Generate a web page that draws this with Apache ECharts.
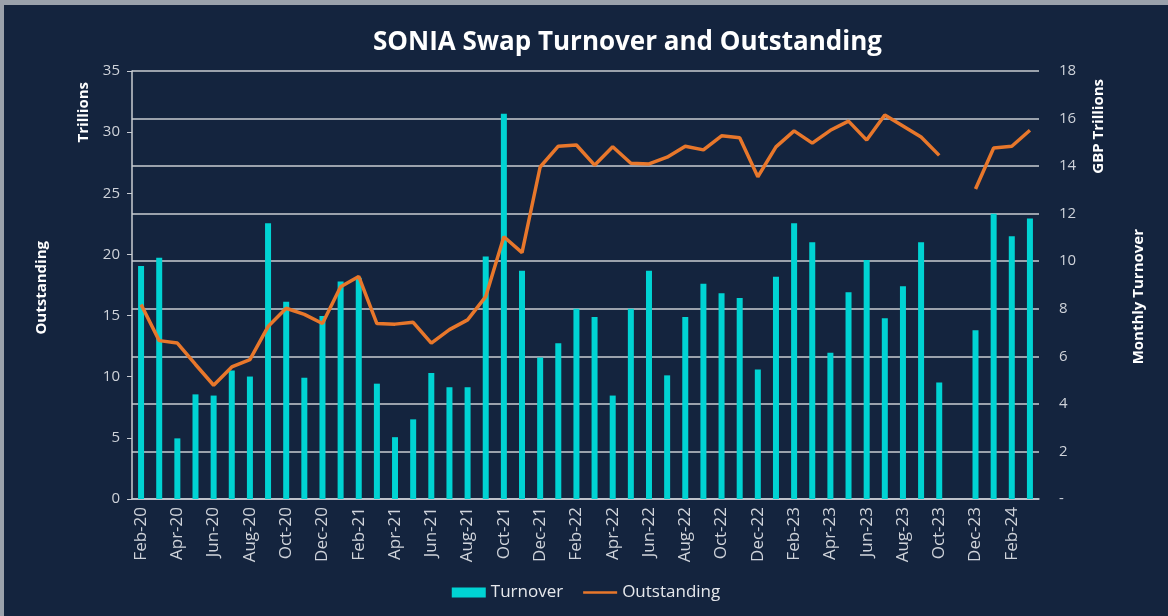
<!DOCTYPE html>
<html>
<head>
<meta charset="utf-8">
<script src="https://cdn.jsdelivr.net/npm/echarts@6/dist/echarts.min.js"></script>
<style>
  html, body { margin: 0; padding: 0; background: #9aa1ab; }
  #chart { position: absolute; left: 4px; top: 5px; width: 1164px; height: 611px; background: #14243e; }
</style>
</head>
<body>
<div id="chart"></div>
<script>
var months = [
  'Feb-20','Mar-20','Apr-20','May-20','Jun-20','Jul-20','Aug-20','Sep-20','Oct-20','Nov-20','Dec-20',
  'Jan-21','Feb-21','Mar-21','Apr-21','May-21','Jun-21','Jul-21','Aug-21','Sep-21','Oct-21','Nov-21','Dec-21',
  'Jan-22','Feb-22','Mar-22','Apr-22','May-22','Jun-22','Jul-22','Aug-22','Sep-22','Oct-22','Nov-22','Dec-22',
  'Jan-23','Feb-23','Mar-23','Apr-23','May-23','Jun-23','Jul-23','Aug-23','Sep-23','Oct-23','Nov-23','Dec-23',
  'Jan-24','Feb-24','Mar-24'
];

// monthly turnover, GBP trillions (right axis)
var turnover = [
  9.8, 10.15, 2.55, 4.4, 4.35, 5.4, 5.15, 11.6, 8.3, 5.1, 7.7,
  9.15, 9.3, 4.85, 2.6, 3.35, 5.3, 4.7, 4.7, 10.2, 16.2, 9.6, 5.95,
  6.55, 8.0, 7.65, 4.35, 8.0, 9.6, 5.2, 7.65, 9.05, 8.65, 8.45, 5.45,
  9.35, 11.6, 10.8, 6.15, 8.7, 10.05, 7.6, 8.95, 10.8, 4.9, null, 7.1,
  12.0, 11.05, 11.8
];

// outstanding, trillions (left axis)
var outstanding = [
  15.9, 12.95, 12.75, 11.0, 9.3, 10.8, 11.4, 14.1, 15.6, 15.1, 14.35,
  17.35, 18.2, 14.35, 14.3, 14.45, 12.75, 13.85, 14.65, 16.55, 21.45, 20.15, 27.15,
  28.85, 28.95, 27.3, 28.8, 27.45, 27.4, 27.95, 28.85, 28.55, 29.7, 29.55, 26.35,
  28.8, 30.1, 29.1, 30.15, 30.9, 29.35, 31.4, 30.5, 29.6, 28.1, null, 25.35,
  28.7, 28.85, 30.15
];

var chart = echarts.init(document.getElementById('chart'));
var labelColor = '#cfd3da';
var font = '"Open Sans", sans-serif';

var option = {
  backgroundColor: '#14243e',
  textStyle: { fontFamily: font },
  title: {
    text: 'SONIA Swap Turnover and Outstanding',
    left: 364,
    top: 20,
    textStyle: { color: '#ffffff', fontSize: 26, fontWeight: 'bold', fontFamily: font }
  },
  legend: {
    bottom: 10,
    left: 'center',
    itemGap: 20,
    itemWidth: 34,
    itemHeight: 10,
    textStyle: { color: '#e6e8ec', fontSize: 17, fontFamily: font },
    data: [
      { name: 'Turnover', icon: 'rect' },
      { name: 'Outstanding', icon: 'path://M0,0 L0.01,0 Z M0,3.7 L34,3.7 L34,6.3 L0,6.3 Z M0,10 L0.01,10 Z' }
    ]
  },
  grid: { left: 128, right: 129, top: 66, bottom: 117 },
  xAxis: {
    type: 'category',
    data: months,
    boundaryGap: true,
    axisLine: { lineStyle: { color: '#c8ccd2', width: 1.5 } },
    axisTick: { interval: 1, length: 5, lineStyle: { color: '#c8ccd2' } },
    axisLabel: { interval: 1, rotate: 90, color: labelColor, fontSize: 17, margin: 8 }
  },
  yAxis: [
    {
      type: 'value',
      min: 0, max: 35, interval: 5,
      splitLine: { show: false },
      axisLine: { show: true, lineStyle: { color: '#c8ccd2', width: 1.5 } },
      axisTick: { show: true, length: 5, lineStyle: { color: '#c8ccd2' } },
      axisLabel: { color: labelColor, fontSize: 15, margin: 12 }
    },
    {
      type: 'value',
      min: 0, max: 18, interval: 2,
      splitLine: { show: true, lineStyle: { color: '#c8ccd2', width: 1.5 } },
      axisLine: { show: false },
      axisTick: { show: false },
      axisLabel: {
        color: labelColor, fontSize: 15, margin: 20,
        formatter: function (v) { return v === 0 ? '-' : v; }
      }
    }
  ],
  graphic: [
    { type: 'text', left: 72, top: 77, rotation: Math.PI / 2,
      style: { text: 'Trillions', fill: '#ffffff', font: 'bold 15px ' + font } },
    { type: 'text', left: 30, top: 236, rotation: Math.PI / 2,
      style: { text: 'Outstanding', fill: '#ffffff', font: 'bold 15px ' + font } },
    { type: 'text', left: 1087, top: 74, rotation: Math.PI / 2,
      style: { text: 'GBP Trillions', fill: '#ffffff', font: 'bold 15px ' + font } },
    { type: 'text', left: 1127, top: 224, rotation: Math.PI / 2,
      style: { text: 'Monthly Turnover', fill: '#ffffff', font: 'bold 15px ' + font } }
  ],
  series: [
    {
      name: 'Turnover',
      type: 'bar',
      yAxisIndex: 1,
      barWidth: 6,
      itemStyle: { color: '#00d3d3' },
      data: turnover
    },
    {
      name: 'Outstanding',
      type: 'line',
      yAxisIndex: 0,
      symbol: 'none',
      connectNulls: false,
      lineStyle: { color: '#e8772b', width: 3.5 },
      itemStyle: { color: '#e8772b' },
      data: outstanding
    }
  ]
};
chart.setOption(option);
</script>
</body>
</html>
